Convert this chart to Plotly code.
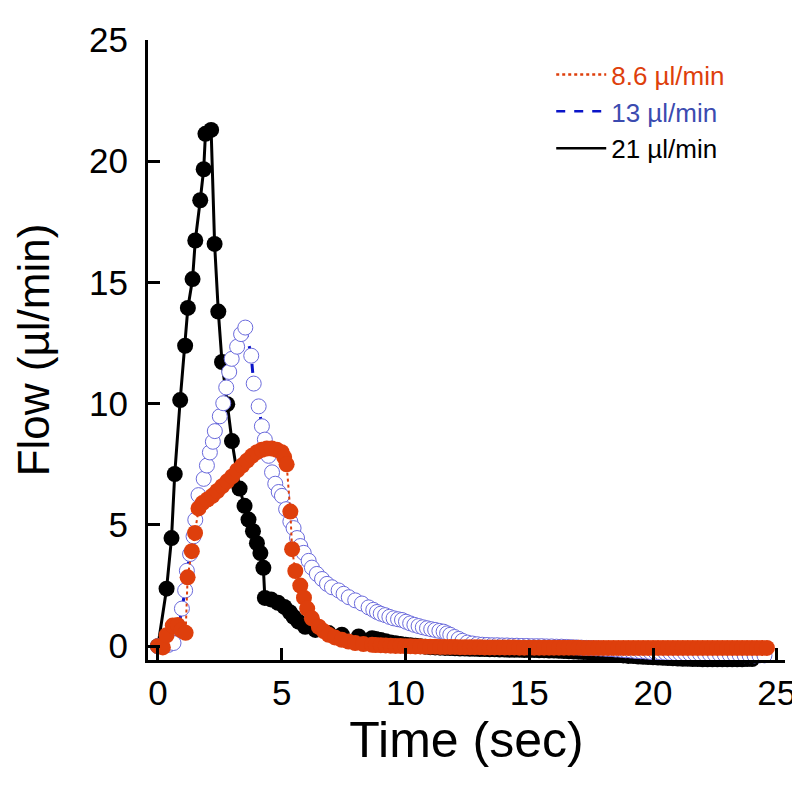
import plotly.graph_objects as go

# ---- data ----
# 21 ul/min (black, filled circles, solid line)
black_t = [0, 0.35, 0.55, 0.68, 0.9, 1.1, 1.21, 1.4, 1.51, 1.71, 1.85, 1.92, 2.15,
           2.29, 2.44, 2.59, 2.8, 2.99, 3.3, 3.5, 3.66, 3.84, 4.0, 4.14, 4.26, 4.32,
           4.57, 4.85, 5.11, 5.33, 5.48, 5.68, 5.95, 6.36, 6.9, 7.43, 8.11, 8.65,
           8.8, 9.0, 9.2, 9.4, 9.6, 9.8, 10.0, 10.2, 10.4, 10.6,
           10.8, 11.0, 11.2, 11.4, 11.6, 11.8, 12.0, 12.2, 12.4, 12.6,
           12.8, 13.0, 13.2, 13.4, 13.6, 13.8, 14.0, 14.2, 14.4, 14.6,
           14.8, 15.0, 15.2, 15.4, 15.6, 15.8, 16.0, 16.2, 16.4, 16.6,
           16.8, 17.0, 17.2, 17.4, 17.6, 17.8, 18.0, 18.2, 18.4, 18.6,
           18.8, 19.0, 19.2, 19.4, 19.6, 19.8, 20.0, 20.2, 20.4, 20.6,
           20.8, 21.0, 21.2, 21.4, 21.6, 21.8, 22.0, 22.2, 22.4, 22.6,
           22.8, 23.0, 23.2, 23.4, 23.6, 23.8, 24.0]
black_flow = [0, 2.37, 4.46, 7.1, 10.15, 12.39, 13.95, 15.14, 16.73, 18.39, 19.67, 21.13, 21.29,
              16.59, 13.8, 11.72, 9.98, 8.46, 6.5, 5.79, 5.22, 4.74, 4.25, 3.84, 3.23, 1.99,
              1.93, 1.79, 1.62, 1.4, 1.21, 1.01, 0.8, 0.67, 0.54, 0.47, 0.4, 0.33,
              0.3, 0.25, 0.2, 0.15, 0.12, 0.09, 0.06, 0.04, 0.02, 0.0,
              -0.02, -0.04, -0.05, -0.06, -0.07, -0.08, -0.09, -0.1, -0.1, -0.11,
              -0.11, -0.12, -0.12, -0.13, -0.13, -0.14, -0.14, -0.15, -0.15, -0.15,
              -0.16, -0.16, -0.16, -0.17, -0.17, -0.18, -0.18, -0.19, -0.2, -0.21,
              -0.22, -0.23, -0.24, -0.25, -0.27, -0.28, -0.3, -0.32, -0.34, -0.36,
              -0.38, -0.4, -0.41, -0.43, -0.44, -0.45, -0.46, -0.47, -0.48, -0.49,
              -0.5, -0.51, -0.52, -0.52, -0.53, -0.53, -0.54, -0.54, -0.54, -0.54,
              -0.54, -0.54, -0.54, -0.54, -0.54, -0.53, -0.53]

# 13 ul/min (blue, open circles, dashed line)
blue_t = [0, 0.2, 0.42, 0.63, 0.84, 0.97, 1.1, 1.17, 1.3, 1.44, 1.51, 1.64, 1.85, 1.98,
          2.1, 2.22, 2.3, 2.5, 2.64, 2.76, 2.88, 2.98, 3.2, 3.36, 3.53,
          3.77, 3.87, 4.07, 4.2, 4.32, 4.47, 4.61, 4.74, 4.88, 5.01, 5.18, 5.35, 5.48,
          5.62, 5.75, 5.89, 6.09, 6.22, 6.42, 6.63, 6.83, 7.03, 7.3, 7.5, 7.71, 7.97,
          8.24, 8.51, 8.7, 8.85, 9.0, 9.18, 9.35, 9.52, 9.7, 9.86, 10.02, 10.19, 10.36,
          10.53, 10.7, 10.87, 11.04, 11.2, 11.37, 11.54, 11.68, 11.81, 11.98, 12.15, 12.3,
          12.5, 12.7, 12.9, 13.1, 13.3, 13.5, 13.7, 13.9, 14.1, 14.3,
          14.5, 14.7, 14.9, 15.1, 15.3, 15.5, 15.7, 15.9, 16.1, 16.3,
          16.5, 16.7, 16.9, 17.1, 17.3, 17.5, 17.7, 17.9, 18.1, 18.3,
          18.5, 18.7, 18.9, 19.1, 19.3, 19.5, 19.7, 19.9, 20.1, 20.3,
          20.5, 20.7, 20.9, 21.1, 21.3, 21.5, 21.7, 21.9, 22.1, 22.3,
          22.5, 22.7, 22.9, 23.1, 23.3, 23.5, 23.7, 23.9, 24.1, 24.3,
          24.5]
blue_flow = [0, 0, 0.05, 0.13, 0.8, 1.55, 2.3, 3.11, 3.8, 4.53, 5.21, 6.23, 6.9, 7.45,
             7.99, 8.43, 8.87, 9.48, 10.02, 10.67, 11.31, 11.85, 12.35, 12.87, 13.14,
             11.98, 10.83, 9.89, 9.07, 8.52, 7.85, 7.17, 6.7, 6.36, 6.2, 5.65, 5.14, 4.87,
             4.46, 4.13, 3.85, 3.52, 3.24, 2.98, 2.77, 2.57, 2.43, 2.3, 2.16, 2.02, 1.89,
             1.76, 1.6, 1.5, 1.41, 1.34, 1.28, 1.21, 1.15, 1.11, 1.08, 1.01, 0.94, 0.88,
             0.83, 0.78, 0.74, 0.7, 0.67, 0.63, 0.6, 0.53, 0.47, 0.38, 0.3, 0.22,
             0.15, 0.11, 0.08, 0.06, 0.05, 0.04, 0.04, 0.03, 0.03, 0.02,
             0.02, 0.01, 0.01, 0.0, 0.0, 0.0, -0.01, -0.01, -0.02, -0.02,
             -0.03, -0.04, -0.05, -0.06, -0.07, -0.08, -0.09, -0.1, -0.11, -0.12,
             -0.14, -0.15, -0.17, -0.18, -0.2, -0.21, -0.22, -0.24, -0.25, -0.26,
             -0.27, -0.28, -0.29, -0.3, -0.3, -0.31, -0.32, -0.32, -0.33, -0.33,
             -0.34, -0.34, -0.35, -0.35, -0.36, -0.36, -0.37, -0.37, -0.38, -0.38,
             -0.38]

# 8.6 ul/min (orange, filled circles, dotted line)
orange_t = [0, 0.2, 0.35, 0.6, 0.8, 0.95, 1.12, 1.2, 1.37, 1.5, 1.64, 1.8, 2.0, 2.2, 2.4,
            2.6, 2.8, 3.0, 3.2, 3.4, 3.6, 3.8, 4.0, 4.2, 4.4, 4.6, 4.8, 5.0, 5.1, 5.2,
            5.35, 5.42, 5.55, 5.75, 5.9, 6.03, 6.22, 6.5, 6.7, 6.9, 7.15, 7.43, 7.7, 7.97,
            8.3, 8.65,
            8.8, 9.0, 9.2, 9.4, 9.6, 9.8, 10.0, 10.2, 10.4, 10.6,
            10.8, 11.0, 11.2, 11.4, 11.6, 11.8, 12.0, 12.2, 12.4, 12.6,
            12.8, 13.0, 13.2, 13.4, 13.6, 13.8, 14.0, 14.2, 14.4, 14.6,
            14.8, 15.0, 15.2, 15.4, 15.6, 15.8, 16.0, 16.2, 16.4, 16.6,
            16.8, 17.0, 17.2, 17.4, 17.6, 17.8, 18.0, 18.2, 18.4, 18.6,
            18.8, 19.0, 19.2, 19.4, 19.6, 19.8, 20.0, 20.2, 20.4, 20.6,
            20.8, 21.0, 21.2, 21.4, 21.6, 21.8, 22.0, 22.2, 22.4, 22.6,
            22.8, 23.0, 23.2, 23.4, 23.6, 23.8, 24.0, 24.2, 24.4, 24.6]
orange_flow = [0, -0.05, 0.45, 0.85, 0.87, 0.65, 0.55, 2.84, 3.92, 4.67, 5.68, 5.9, 6.05, 6.2, 6.4,
               6.6, 6.8, 7.0, 7.25, 7.45, 7.65, 7.85, 8.0, 8.1, 8.15, 8.15, 8.1, 8.0, 7.8, 7.5,
               5.55, 4.0, 3.1, 2.5, 2.0, 1.55, 1.15, 0.8, 0.62, 0.47, 0.36, 0.26, 0.19, 0.13,
               0.09, 0.06,
               0.05, 0.04, 0.03, 0.02, 0.01, 0.01, 0.0, 0.0, -0.01, -0.01,
               -0.02, -0.02, -0.02, -0.03, -0.03, -0.03, -0.03, -0.04, -0.04, -0.04,
               -0.04, -0.04, -0.05, -0.05, -0.05, -0.05, -0.05, -0.05, -0.05, -0.06,
               -0.06, -0.06, -0.06, -0.06, -0.06, -0.06, -0.06, -0.06, -0.06, -0.06,
               -0.06, -0.06, -0.07, -0.07, -0.07, -0.07, -0.07, -0.07, -0.07, -0.07,
               -0.07, -0.07, -0.07, -0.07, -0.07, -0.07, -0.07, -0.07, -0.07, -0.07,
               -0.07, -0.07, -0.07, -0.07, -0.07, -0.07, -0.07, -0.07, -0.07, -0.07,
               -0.07, -0.07, -0.07, -0.07, -0.07, -0.07, -0.07, -0.07, -0.07, -0.07]

series_names = ["8.6 µl/min", "13 µl/min", "21 µl/min"]
x_ticks = [0, 5, 10, 15, 20, 25]
y_ticks = [0, 5, 10, 15, 20, 25]

ORANGE = "#DE3F0C"
BLUE_LINE = "#0A14C8"
BLUE_MARK = "#6A6ADC"
BLUE_TEXT = "#3B4BB0"
FONT = "Liberation Sans, Arial, sans-serif"

fig = go.Figure()

# data traces (black bottom, blue middle, orange top)
fig.add_trace(go.Scatter(x=black_t, y=black_flow, mode="lines+markers", showlegend=False,
                         cliponaxis=False,
                         line=dict(color="black", width=3),
                         marker=dict(color="black", size=16, line=dict(width=0))))
fig.add_trace(go.Scatter(x=blue_t, y=blue_flow, mode="lines+markers", showlegend=False,
                         cliponaxis=False,
                         line=dict(color=BLUE_LINE, width=3, dash="dash"),
                         marker=dict(color="white", size=15, line=dict(color=BLUE_MARK, width=1))))
fig.add_trace(go.Scatter(x=orange_t, y=orange_flow, mode="lines+markers", showlegend=False,
                         cliponaxis=False,
                         line=dict(color=ORANGE, width=2, dash="dot"),
                         marker=dict(color=ORANGE, size=16, line=dict(width=0))))

# legend-only entries (line samples, coloured text)
legend_specs = [(series_names[0], ORANGE, ORANGE, "dot"),
                (series_names[1], BLUE_LINE, BLUE_TEXT, "dash"),
                (series_names[2], "black", "black", "solid")]
for name, lc, tc, dash in legend_specs:
    fig.add_trace(go.Scatter(x=[None], y=[None], mode="lines",
                             name=f'<span style="color:{tc}">{name}</span>',
                             line=dict(color=lc, width=2.5, dash=dash)))

axis_common = dict(showline=True, linewidth=3, linecolor="black", showgrid=False,
                   zeroline=False, ticks="inside", ticklen=12, tickwidth=2.5,
                   tickcolor="black", tickfont=dict(family=FONT, size=35, color="black"))

fig.update_layout(
    width=800, height=787,
    margin=dict(l=140, r=23, t=21, b=135),
    paper_bgcolor="white", plot_bgcolor="white",
    font=dict(family=FONT, color="black"),
    xaxis=dict(range=[-0.4, 25.33], tickvals=x_ticks, ticktext=[str(v) for v in x_ticks],
               title=dict(text="Time (sec)", font=dict(family=FONT, size=50), standoff=4),
               **axis_common),
    yaxis=dict(range=[-0.57, 25], tickvals=y_ticks, ticktext=[str(v) for v in y_ticks],
               title=dict(text="Flow (µl/min)", font=dict(family=FONT, size=44), standoff=26),
               ticklabelstandoff=10,
               **axis_common),
    legend=dict(x=0.633, y=0.982, xanchor="left", yanchor="top",
                bgcolor="rgba(0,0,0,0)", font=dict(family=FONT, size=26),
                tracegroupgap=0, itemwidth=50, traceorder="normal"),
)

fig.write_html("out.html")
